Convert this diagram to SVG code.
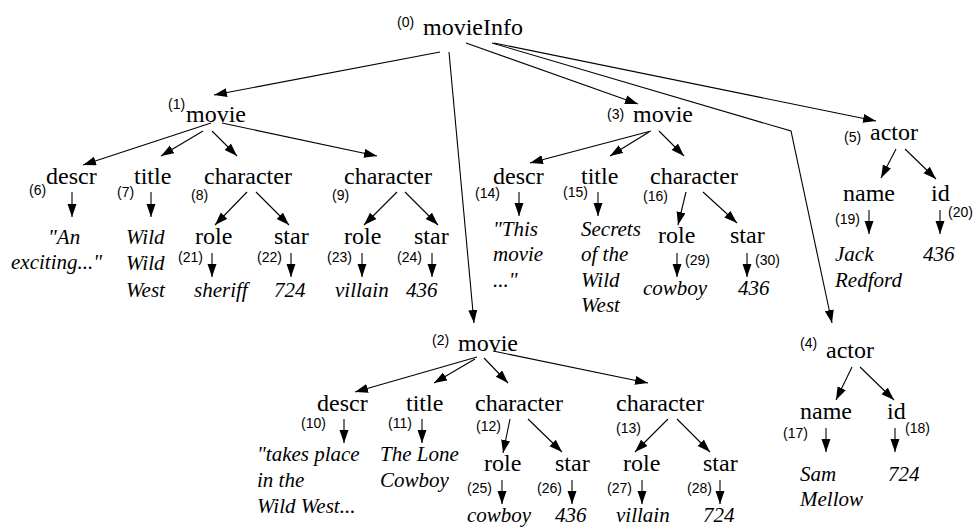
<svg xmlns="http://www.w3.org/2000/svg" width="975" height="527" viewBox="0 0 975 527">
<defs>
<marker id="ah" markerUnits="userSpaceOnUse" markerWidth="14" markerHeight="10" refX="13" refY="4.5" orient="auto">
<path d="M0,0 L13,4.5 L0,9 z" fill="#000"/>
</marker>
<style>
.lbl{font-family:"Liberation Serif","Times New Roman",serif;font-size:24px;fill:#000}
.num{font-family:"Liberation Sans",Arial,sans-serif;font-size:14px;fill:#000}
.val{font-family:"Liberation Serif","Times New Roman",serif;font-style:italic;font-size:21px;fill:#000}
.e{stroke:#000;stroke-width:1.1;fill:none;marker-end:url(#ah)}
</style>
</defs>
<rect width="975" height="527" fill="#fff"/>
<g id="connectors">
<path class="e" d="M440,52 L214,95"/>
<path class="e" d="M449,52 L474,323"/>
<path class="e" d="M466,43 L638,104"/>
<path class="e" d="M492,43 L791,131 L832,323"/>
<path class="e" d="M494,43 L876,121"/>
<path class="e" d="M211,123 L83,165"/>
<path class="e" d="M203,131 L161,156"/>
<path class="e" d="M212,131 L237,156"/>
<path class="e" d="M222,123 L377,156"/>
<path class="e" d="M247,192 L215,225"/>
<path class="e" d="M256,192 L289,225"/>
<path class="e" d="M397,192 L364,225"/>
<path class="e" d="M405,192 L438,225"/>
<path class="e" d="M72,192 L72,217"/>
<path class="e" d="M151,192 L151,217"/>
<path class="e" d="M212,253 L212,277"/>
<path class="e" d="M291,253 L291,277"/>
<path class="e" d="M362,253 L362,277"/>
<path class="e" d="M432,253 L432,277"/>
<path class="e" d="M651,131 L530,163"/>
<path class="e" d="M649,132 L610,156"/>
<path class="e" d="M659,131 L684,156"/>
<path class="e" d="M519,192 L519,216"/>
<path class="e" d="M598,192 L598,216"/>
<path class="e" d="M686,192 L678,225"/>
<path class="e" d="M703,192 L737,223"/>
<path class="e" d="M677,253 L677,277"/>
<path class="e" d="M747,253 L747,277"/>
<path class="e" d="M896,149 L881,178"/>
<path class="e" d="M905,149 L936,179"/>
<path class="e" d="M869,210 L869,234"/>
<path class="e" d="M940,210 L940,234"/>
<path class="e" d="M477,357 L355,392"/>
<path class="e" d="M475,359 L434,383"/>
<path class="e" d="M484,358 L508,383"/>
<path class="e" d="M493,351 L648,383"/>
<path class="e" d="M344,419 L344,443"/>
<path class="e" d="M422,419 L422,443"/>
<path class="e" d="M510,419 L503,453"/>
<path class="e" d="M528,419 L562,452"/>
<path class="e" d="M502,480 L502,504"/>
<path class="e" d="M572,480 L572,504"/>
<path class="e" d="M668,419 L635,452"/>
<path class="e" d="M677,419 L710,452"/>
<path class="e" d="M642,480 L642,504"/>
<path class="e" d="M720,480 L720,504"/>
<path class="e" d="M852,367 L836,400"/>
<path class="e" d="M860,367 L894,400"/>
<path class="e" d="M826,428 L826,452"/>
<path class="e" d="M895,428 L895,452"/>
</g>
<g id="n0"><text class="num" x="397" y="27">(0)</text><text class="lbl" x="423" y="35">movieInfo</text></g>
<g id="n1"><text class="num" x="168" y="109">(1)</text><text class="lbl" x="186" y="122">movie</text></g>
<g id="n2"><text class="num" x="432" y="345">(2)</text><text class="lbl" x="458" y="351">movie</text></g>
<g id="n3"><text class="num" x="607" y="119">(3)</text><text class="lbl" x="633" y="122">movie</text></g>
<g id="n4"><text class="num" x="800" y="348">(4)</text><text class="lbl" x="826" y="358">actor</text></g>
<g id="n5"><text class="num" x="844" y="142">(5)</text><text class="lbl" x="870" y="140">actor</text></g>
<g id="n6"><text class="num" x="29" y="195">(6)</text><text class="lbl" x="46" y="184">descr</text><text class="val" x="48" y="244">"An</text><text class="val" x="11" y="269">exciting..."</text></g>
<g id="n7"><text class="num" x="117" y="197">(7)</text><text class="lbl" x="134" y="184">title</text><text class="val" x="126" y="244">Wild</text><text class="val" x="126" y="270">Wild</text><text class="val" x="126" y="297">West</text></g>
<g id="n8"><text class="num" x="191" y="200">(8)</text><text class="lbl" x="204" y="184">character</text></g>
<g id="n9"><text class="num" x="332" y="200">(9)</text><text class="lbl" x="344" y="184">character</text></g>
<g id="n10"><text class="num" x="301" y="428">(10)</text><text class="lbl" x="317" y="411">descr</text><text class="val" x="257" y="461">"takes place</text><text class="val" x="257" y="487">in the</text><text class="val" x="257" y="513">Wild West...</text></g>
<g id="n11"><text class="num" x="388" y="428">(11)</text><text class="lbl" x="406" y="411">title</text><text class="val" x="380" y="461">The Lone</text><text class="val" x="380" y="487">Cowboy</text></g>
<g id="n12"><text class="num" x="476" y="431">(12)</text><text class="lbl" x="475" y="411">character</text></g>
<g id="n13"><text class="num" x="616" y="433">(13)</text><text class="lbl" x="616" y="411">character</text></g>
<g id="n14"><text class="num" x="475" y="198">(14)</text><text class="lbl" x="493" y="184">descr</text><text class="val" x="493" y="236">"This</text><text class="val" x="493" y="261">movie</text><text class="val" x="493" y="287">..."</text></g>
<g id="n15"><text class="num" x="563" y="197">(15)</text><text class="lbl" x="581" y="184">title</text><text class="val" x="581" y="236">Secrets</text><text class="val" x="581" y="261">of the</text><text class="val" x="581" y="287">Wild</text><text class="val" x="581" y="312">West</text></g>
<g id="n16"><text class="num" x="643" y="201">(16)</text><text class="lbl" x="650" y="184">character</text></g>
<g id="n17"><text class="num" x="783" y="438">(17)</text><text class="lbl" x="800" y="419">name</text><text class="val" x="800" y="481">Sam</text><text class="val" x="800" y="506">Mellow</text></g>
<g id="n18"><text class="num" x="905" y="433">(18)</text><text class="lbl" x="887" y="419">id</text><text class="val" x="888" y="481">724</text></g>
<g id="n19"><text class="num" x="835" y="224">(19)</text><text class="lbl" x="843" y="201">name</text><text class="val" x="835" y="261">Jack</text><text class="val" x="835" y="287">Redford</text></g>
<g id="n20"><text class="num" x="948" y="217">(20)</text><text class="lbl" x="931" y="201">id</text><text class="val" x="923" y="261">436</text></g>
<g id="n21"><text class="num" x="178" y="262">(21)</text><text class="lbl" x="195" y="244">role</text><text class="val" x="194" y="297">sheriff</text></g>
<g id="n22"><text class="num" x="257" y="262">(22)</text><text class="lbl" x="274" y="244">star</text><text class="val" x="274" y="297">724</text></g>
<g id="n23"><text class="num" x="327" y="262">(23)</text><text class="lbl" x="344" y="244">role</text><text class="val" x="335" y="297">villain</text></g>
<g id="n24"><text class="num" x="397" y="262">(24)</text><text class="lbl" x="414" y="244">star</text><text class="val" x="406" y="297">436</text></g>
<g id="n25"><text class="num" x="467" y="493">(25)</text><text class="lbl" x="484" y="471">role</text><text class="val" x="467" y="522">cowboy</text></g>
<g id="n26"><text class="num" x="537" y="493">(26)</text><text class="lbl" x="555" y="471">star</text><text class="val" x="555" y="522">436</text></g>
<g id="n27"><text class="num" x="607" y="493">(27)</text><text class="lbl" x="623" y="471">role</text><text class="val" x="616" y="522">villain</text></g>
<g id="n28"><text class="num" x="687" y="493">(28)</text><text class="lbl" x="703" y="471">star</text><text class="val" x="703" y="522">724</text></g>
<g id="n29"><text class="num" x="685" y="265">(29)</text><text class="lbl" x="658" y="243">role</text><text class="val" x="643" y="295">cowboy</text></g>
<g id="n30"><text class="num" x="755" y="265">(30)</text><text class="lbl" x="730" y="243">star</text><text class="val" x="738" y="295">436</text></g>
</svg>
